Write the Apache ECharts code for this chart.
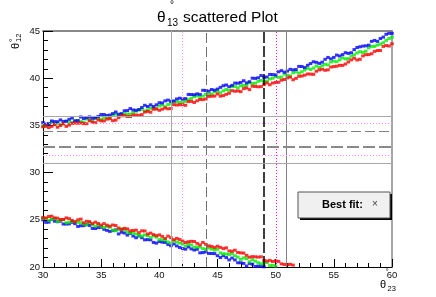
<!DOCTYPE html>
<html><head><meta charset="utf-8">
<script src="https://cdn.jsdelivr.net/npm/echarts@6/dist/echarts.min.js"></script>
<style>html,body{margin:0;padding:0;background:#fff}#c{width:436px;height:297px}</style>
</head><body><div id="c"></div>
<script>
// theta23 sample positions
const xs = [30,30.5,31,31.5,32,32.5,33,33.5,34,34.5,35,35.5,36,36.5,37,37.5,38,38.5,39,39.5,40,40.5,41,41.5,42,42.5,43,43.5,44,44.5,45,45.5,46,46.5,47,47.5,48,48.5,49,49.5,50,50.5,51,51.5,52,52.5,53,53.5,54,54.5,55,55.5,56,56.5,57,57.5,58,58.5,59,59.5,60];
const xsMid = [30.25,30.75,31.25,31.75,32.25,32.75,33.25,33.75,34.25,34.75,35.25,35.75,36.25,36.75,37.25,37.75,38.25,38.75,39.25,39.75,40.25,40.75,41.25,41.75,42.25,42.75,43.25,43.75,44.25,44.75,45.25,45.75,46.25,46.75,47.25,47.75,48.25,48.75,49.25,49.75,50.25,50.75,51.25,51.75,52.25,52.75,53.25,53.75,54.25,54.75,55.25,55.75,56.25,56.75,57.25,57.75,58.25,58.75,59.25,59.75];
// upper branch theta12 (at xs)
const upperBlue = [35.30,35.18,35.40,35.58,35.45,35.78,35.50,35.73,35.90,35.80,36.15,36.05,36.25,36.18,36.55,36.78,36.60,36.90,37.00,37.00,37.40,37.60,37.55,37.80,37.80,38.28,38.25,38.28,38.70,38.80,38.85,39.20,39.10,39.48,39.55,39.50,40.00,40.05,40.10,40.40,40.35,40.80,40.75,40.88,41.25,41.13,41.55,41.68,41.70,42.20,42.20,42.35,42.70,42.70,43.25,43.40,43.50,44.00,44.20,44.65,44.75];
const upperGreen = [34.95,35.17,35.14,35.11,35.43,35.30,35.51,35.34,35.60,35.75,35.64,35.84,36.08,36.00,36.22,36.19,36.51,36.70,36.64,36.84,37.08,36.98,37.32,37.51,37.51,37.73,38.05,37.97,38.29,38.33,38.63,38.67,38.71,39.13,39.20,39.24,39.44,39.68,39.63,39.92,40.17,40.11,40.30,40.58,40.54,40.87,40.93,41.30,41.32,41.41,41.81,41.95,42.05,42.34,42.68,42.73,43.22,43.37,43.61,44.01,44.35];
const upperRed = [34.85,34.77,35.08,34.99,34.90,35.22,35.23,35.19,35.50,35.29,35.48,35.66,35.50,35.82,36.03,35.94,36.10,36.14,36.48,36.71,36.60,36.84,36.78,37.16,37.20,37.52,37.43,37.74,37.80,38.09,38.33,38.16,38.40,38.62,38.58,38.96,39.15,39.09,39.33,39.31,39.55,39.79,40.03,39.84,40.20,40.32,40.43,40.74,40.95,40.89,41.23,41.36,41.50,41.94,41.93,42.36,42.50,42.84,42.93,43.46,43.65];
// upper branch theta12 (at xsMid)
const upperBlueMid = [35.14,35.47,35.39,35.42,35.64,35.47,35.89,35.82,35.75,35.95,36.15,36.10,36.42,36.24,36.57,36.64,36.68,37.13,37.18,37.18,37.38,37.68,37.58,37.88,37.84,38.27,38.34,38.72,38.63,38.73,39.03,39.28,39.24,39.47,39.73,39.63,39.98,40.28,40.13,40.38,40.68,40.63,40.94,40.92,41.24,41.37,41.74,41.57,42.00,42.05,42.45,42.50,42.63,43.03,43.33,43.43,43.90,43.90,44.35,44.75];
const upperGreenMid = [34.89,35.31,35.23,35.15,35.31,35.49,35.40,35.68,35.45,35.74,35.79,35.78,36.20,36.21,36.19,36.35,36.63,36.53,36.82,36.77,37.16,37.20,37.55,37.44,37.55,37.87,38.14,38.11,38.31,38.56,38.45,38.80,39.10,38.97,39.23,39.52,39.47,39.76,39.70,40.00,40.09,40.44,40.24,40.67,40.68,41.05,41.07,41.14,41.47,41.71,41.75,42.15,42.07,42.47,42.81,42.86,43.37,43.51,43.76,44.20];
const upperRedMid = [34.93,34.90,34.81,35.18,35.03,35.25,35.26,35.18,35.34,35.58,35.47,35.71,35.56,36.02,35.94,36.10,36.07,36.41,36.40,36.74,36.72,36.76,37.20,37.19,37.13,37.55,37.61,37.73,38.07,38.11,38.10,38.29,38.68,38.65,38.90,38.79,39.12,39.11,39.50,39.49,39.57,39.86,40.11,39.98,40.23,40.45,40.41,40.88,40.84,41.18,41.27,41.36,41.72,42.11,42.00,42.49,42.59,42.93,43.37,43.41];
// lower branch theta12 (at xs, until the band leaves the frame)
const lowerRed = [25.25,25.35,25.20,25.03,25.20,24.93,25.00,24.68,24.80,24.75,24.45,24.43,24.45,24.13,24.10,23.83,23.90,23.83,23.50,23.43,23.40,23.03,23.10,23.03,22.75,22.68,22.70,22.35,22.40,22.18,22.20,21.95,21.70,21.78,21.50,21.23,21.10,21.05,20.70,20.70,20.65,20.33,20.25,20.20];
const lowerGreen = [25.15,24.95,25.15,24.92,24.68,24.85,24.73,24.55,24.73,24.32,24.30,24.28,23.90,23.97,23.93,23.59,23.50,23.27,23.33,23.29,22.90,22.87,22.53,22.65,22.43,22.45,22.08,22.10,21.88,21.90,21.88,21.40,21.33,21.19,20.80,20.89,20.78,20.45,20.43,20.15,20.10];
const lowerBlue = [25.00,24.75,24.85,24.85,24.55,24.73,24.30,24.38,24.40,24.08,24.20,23.88,23.85,23.50,23.60,23.55,23.10,23.10,22.90,22.60,22.70,22.60,22.25,22.23,21.95,22.13,21.80,21.50,21.60,21.43,21.20,21.20,20.75,20.75,20.45,20.10,20.30,20.10,20.02];
// lower branch theta12 (at xsMid)
const lowerRedMid = [25.18,25.38,25.17,25.04,25.12,24.79,25.07,24.84,24.60,24.60,24.59,24.32,24.39,23.97,24.04,23.87,23.64,23.82,23.59,23.32,23.24,23.27,22.89,22.92,22.59,22.72,22.50,22.60,22.24,22.07,22.08,22.03,21.67,21.54,21.47,21.04,21.08,21.08,20.63,20.58,20.59,20.27,20.28];
const lowerGreenMid = [25.18,25.03,24.81,25.03,24.74,24.82,24.69,24.47,24.48,24.51,24.19,24.22,23.84,24.05,23.71,23.62,23.34,23.40,23.11,23.17,22.89,22.65,22.82,22.54,22.22,22.34,22.12,21.94,22.02,21.79,21.49,21.37,21.44,21.05,20.97,20.56,20.62,20.34,20.47,20.18];
const lowerBlueMid = [24.73,25.03,24.80,24.55,24.57,24.59,24.37,24.49,24.09,24.17,23.99,23.77,23.93,23.68,23.38,23.28,23.28,22.88,22.88,22.53,22.63,22.38,22.44,22.07,21.89,21.92,21.88,21.53,21.44,21.42,21.00,21.00,20.95,20.45,20.38,20.38,20.05,20.10];
// reference lines
const vLines = [41, 42, 44, 49, 50.05, 50.9];
const hLines = [36.0, 35.2, 34.35, 32.7, 31.85, 31.0];

const vStyles = [
  {color:'#a8a8a8', width:1, type:'solid'},
  {color:'#ff90ff', width:1, type:[1,2]},
  {color:'#707070', width:1, type:[10,4]},
  {color:'#000000', width:1.5, type:[11,3]},
  {color:'#ff00ff', width:1, type:[1,2]},
  {color:'#808080', width:1, type:'solid'}
];
const hStyles = [
  {color:'#a8a8a8', width:1, type:'solid'},
  {color:'#ff90ff', width:1, type:[1,2]},
  {color:'#808080', width:1, type:[10,4]},
  {color:'#888888', width:2, type:[12,4]},
  {color:'#ff90ff', width:1, type:[1,2]},
  {color:'#a8a8a8', width:1, type:'solid'}
];

const FONT = 'Liberation Sans, Arial, Helvetica, sans-serif';
const pts = (ys, ysMid) => ys.map((y, i) => [xs[i], y]).concat(ysMid.map((y, i) => [xsMid[i], y]));
const sc = (a, b, color) => ({
  type:'scatter', data: pts(a, b), symbol:'rect', symbolSize:[3.5,3],
  itemStyle:{color:color}, silent:true, animation:false, z:3
});

const chart = echarts.init(document.getElementById('c'), null, {renderer:'canvas'});
chart.setOption({
  backgroundColor:'#ffffff',
  animation:false,
  grid:{left:43, right:44, top:31, bottom:30, containLabel:false},
  xAxis:[{
    type:'value', min:30, max:60, interval:5, position:'bottom',
    axisLine:{lineStyle:{color:'#000', width:1}},
    axisTick:{inside:true, length:8, lineStyle:{color:'#000'}},
    minorTick:{show:true, splitNumber:5, length:4, lineStyle:{color:'#000'}},
    splitLine:{show:false},
    axisLabel:{margin:3, color:'#111', fontFamily:FONT, fontSize:9.5}
  },{
    type:'value', min:30, max:60, position:'top',
    axisLine:{show:true, lineStyle:{color:'#888', width:2}},
    axisTick:{show:false}, axisLabel:{show:false}, splitLine:{show:false}
  }],
  yAxis:[{
    type:'value', min:20, max:45, interval:5, position:'left',
    axisLine:{show:true, lineStyle:{color:'#000', width:1}},
    axisTick:{show:true, inside:true, length:10, lineStyle:{color:'#000'}},
    minorTick:{show:true, splitNumber:5, length:5, lineStyle:{color:'#000'}},
    splitLine:{show:false},
    axisLabel:{margin:3, color:'#111', fontFamily:FONT, fontSize:9.5}
  },{
    type:'value', min:20, max:45, position:'right',
    axisLine:{show:true, lineStyle:{color:'#888', width:1.5}},
    axisTick:{show:false}, axisLabel:{show:false}, splitLine:{show:false}
  }],
  series:[
    {
      type:'scatter', data:[], silent:true, z:2,
      markLine:{
        silent:true, symbol:['none','none'], animation:false,
        label:{show:false},
        data: vLines.map((v,i)=>({xAxis:v, lineStyle:vStyles[i]}))
             .concat(hLines.map((v,i)=>({yAxis:v, lineStyle:hStyles[i]})))
      }
    },
    sc(upperGreen, upperGreenMid, '#00ee00'),
    sc(upperBlue, upperBlueMid, '#0000ff'),
    sc(upperRed, upperRedMid, '#ff0000'),
    sc(lowerBlue, lowerBlueMid, '#0000ff'),
    sc(lowerGreen, lowerGreenMid, '#00ee00'),
    sc(lowerRed, lowerRedMid, '#ff0000')
  ],
  graphic:[
    {type:'text', x:157, y:10, style:{text:'θ', font:'15.5px '+FONT, fill:'#000'}},
    {type:'text', x:167, y:18, style:{text:'13', font:'10px '+FONT, fill:'#000'}},
    {type:'text', x:170, y:0, style:{text:'°', font:'10px '+FONT, fill:'#000'}},
    {type:'text', x:183, y:10, style:{text:'scattered Plot', font:'15.5px '+FONT, fill:'#000'}},
    {type:'group', x:10, y:49, rotation:Math.PI/2, children:[
      {type:'text', x:0, y:0, style:{text:'θ', font:'11px '+FONT, fill:'#000'}},
      {type:'text', x:7, y:4.5, style:{text:'12', font:'7.5px '+FONT, fill:'#000'}},
      {type:'text', x:7, y:-1, style:{text:'°', font:'8px '+FONT, fill:'#000'}}
    ]},
    {type:'text', x:380, y:279, style:{text:'θ', font:'11px '+FONT, fill:'#000'}},
    {type:'text', x:387.5, y:285, style:{text:'23', font:'7.5px '+FONT, fill:'#000'}},
    {type:'text', x:385.5, y:268, style:{text:'°', font:'8px '+FONT, fill:'#000'}},
    {type:'rect', shape:{x:300, y:194, width:92, height:26}, style:{fill:'#000'}, z:10},
    {type:'rect', shape:{x:298, y:192, width:92, height:26}, style:{fill:'#f0f0f0', stroke:'#555', lineWidth:1}, z:11},
    {type:'text', x:322, y:199, style:{text:'Best fit:', font:'bold 11px '+FONT, fill:'#000'}, z:12},
    {type:'text', x:372, y:199, style:{text:'×', font:'10px '+FONT, fill:'#444'}, z:12}
  ]
});
</script></body></html>
